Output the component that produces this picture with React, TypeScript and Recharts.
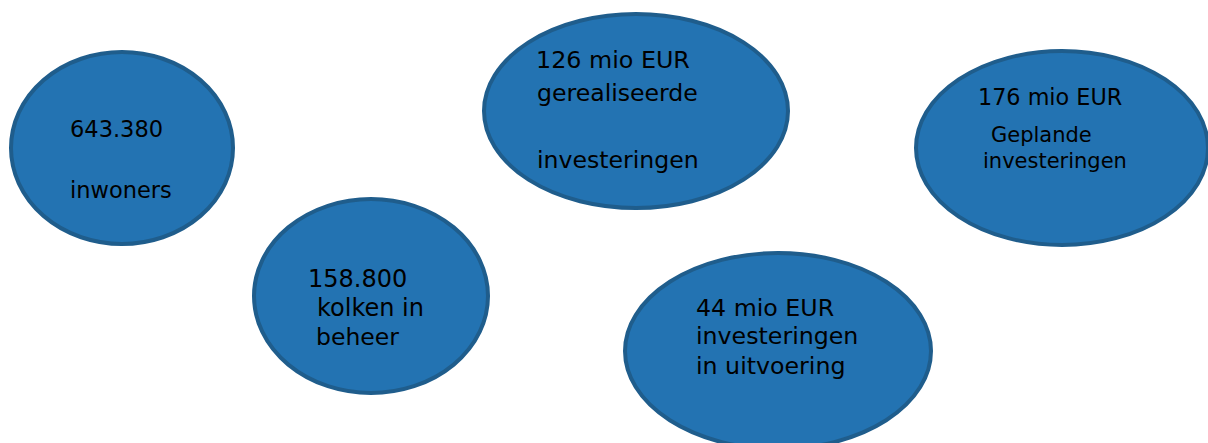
import React from "react";
import { ScatterChart, Scatter, XAxis, YAxis } from "recharts";

// Infographic items (key figures)
const items = ["inwoners", "kolken", "gerealiseerd", "gepland", "uitvoering"];
const labelLines: string[][] = [
  ["643.380", "inwoners"],
  ["158.800", "kolken in", "beheer"],
  ["126 mio EUR", "gerealiseerde", "investeringen"],
  ["176 mio EUR", "Geplande", "investeringen"],
  ["44 mio EUR", "investeringen", "in uitvoering"],
];
// Bubble placement in diagram units
const posX = [122, 371, 636, 1062, 778];
const posY = [148, 296, 111, 148, 351];

const data = items.map((name, i) => ({ name, x: posX[i], y: posY[i], idx: i }));

// Styling / layout (not data)
const W = 1208;
const H = 443;
const radii = [
  [111, 96],
  [117, 97],
  [152, 97],
  [146, 97],
  [153, 98],
];
const lineOffsets: number[][][] = [
  [[-52, -11], [-52, 50]],
  [[-63, -9], [-54, 20], [-55, 49]],
  [[-100, -43], [-99, -10], [-99, 57]],
  [[-84, -43], [-71, -6], [-79, 20]],
  [[-82, -35], [-82, -7], [-82, 23]],
];
const lineSizes: number[][] = [
  [22.5, 22.5],
  [24, 24, 23.5],
  [23.8, 23.6, 23.6],
  [22.3, 21, 21],
  [23.7, 23.7, 23.7],
];

const Bubble = (props: any) => {
  const { cx, cy, payload } = props;
  const i = payload.idx;
  const [rx, ry] = radii[i];
  return (
    <g>
      <ellipse cx={cx} cy={cy} rx={rx} ry={ry} fill="#2373b2" stroke="#1f5d8c" strokeWidth={4} />
      {labelLines[i].map((t, j) => (
        <text
          key={j}
          x={cx + lineOffsets[i][j][0]}
          y={cy + lineOffsets[i][j][1]}
          fontFamily="'DejaVu Sans', Verdana, sans-serif"
          fontSize={lineSizes[i][j]}
          fill="#000"
        >
          {t}
        </text>
      ))}
    </g>
  );
};

export default function App() {
  return (
    <div style={{ position: "absolute", left: 0, top: 0, width: W, height: H, background: "#fff", overflow: "hidden" }}>
      <ScatterChart width={W} height={H} margin={{ top: 0, right: 0, bottom: 0, left: 0 }}>
        <XAxis type="number" dataKey="x" domain={[0, W]} hide />
        <YAxis type="number" dataKey="y" domain={[0, H]} reversed hide />
        <Scatter data={data} isAnimationActive={false} shape={Bubble} />
      </ScatterChart>
    </div>
  );
}
